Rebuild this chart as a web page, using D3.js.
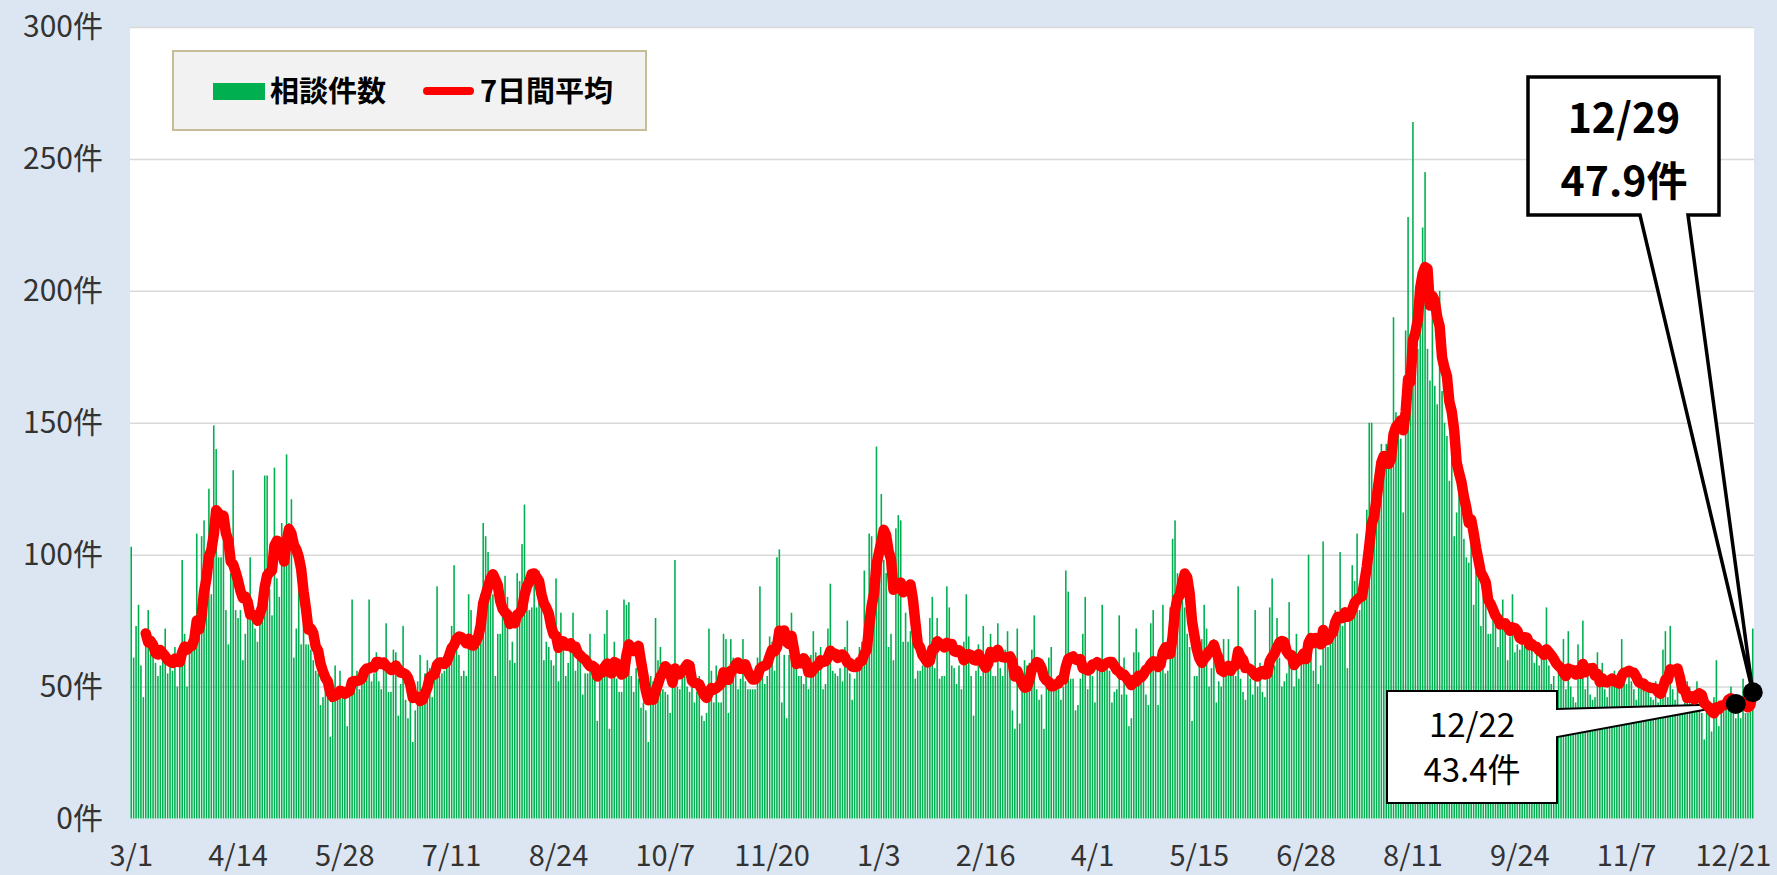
<!DOCTYPE html>
<meta charset="utf-8">
<script src="https://d3js.org/d3.v7.min.js"></script>
<style>
body { margin: 0; background: #dce6f2; }
svg text { font-family: "Noto Sans CJK JP", "Noto Sans", sans-serif; }
</style>
<svg id="chart" width="1777" height="875"></svg>
<script>

// daily consultation counts, one per day from 2020-03-01 to 2021-12-29
var startDate = "2020-03-01";
var counts = [
103,61,73,81,58,46,69,79,65,63, 59,54,58,60,72,55,58,56,65,50,
59,98,70,50,64,67,68,108,75,107, 113,99,125,85,149,140,99,99,106,79,
66,93,132,79,76,79,60,70,78,99, 79,72,67,78,89,130,130,87,77,133,
91,84,112,98,138,112,121,61,72,92, 66,78,66,66,64,60,56,55,43,46,
49,54,31,45,58,46,56,47,48,35, 48,83,48,56,49,52,54,56,83,52,
55,63,52,49,60,74,48,48,64,63, 39,51,73,45,38,45,29,41,52,62,
48,55,60,57,46,54,88,54,55,56, 63,63,73,96,70,62,54,56,54,85,
79,69,73,68,85,112,107,101,90,85, 54,70,70,86,92,84,60,67,59,93,
90,104,119,84,79,80,94,80,94,84, 60,67,65,60,58,91,52,78,66,54,
59,65,78,56,61,60,47,55,55,70, 57,56,37,56,56,70,79,34,53,67,
53,48,48,83,81,82,54,48,57,53, 42,44,41,29,54,52,76,60,65,49,
48,47,40,51,98,50,49,57,54,50, 48,58,44,48,54,39,37,40,72,56,
44,58,44,44,70,68,40,68,61,58, 49,53,68,52,49,49,49,49,61,88,
58,51,54,69,67,56,99,102,44,62, 38,62,78,63,63,54,54,51,54,49,
62,71,63,56,65,49,51,72,89,56, 55,54,57,52,65,75,55,45,53,58,
65,67,94,65,108,107,91,141,98,123, 98,93,65,70,60,110,115,113,67,78,
67,71,72,53,56,56,58,58,61,76, 84,57,76,53,54,54,88,80,58,57,
51,58,49,67,85,69,54,39,56,66, 54,73,58,65,70,54,54,74,57,54,
64,71,56,41,34,72,36,48,60,58, 59,64,77,49,45,47,34,50,61,65,
49,50,49,45,50,94,86,53,53,41, 43,53,70,84,49,56,54,44,58,60,
81,56,60,56,44,48,49,77,47,61, 47,35,38,63,72,63,56,55,47,43,
74,79,61,43,61,81,55,56,80,106, 113,93,90,88,80,70,65,37,54,54,
65,68,81,72,50,57,68,44,52,50, 68,55,68,55,56,54,88,53,48,45,
55,53,47,79,50,59,48,46,55,80, 91,58,76,61,50,52,55,82,57,50,
70,53,61,65,67,100,63,56,67,51, 58,105,72,65,69,73,79,72,101,73,
80,57,76,96,90,108,79,83,95,117, 150,150,127,125,134,142,134,142,137,140,
190,154,149,144,116,185,228,182,264,170, 178,200,224,245,178,166,196,164,157,200,
162,150,145,128,137,107,116,134,125,106, 99,97,116,81,94,92,73,88,82,70,
70,79,76,65,73,83,72,60,69,85, 63,66,64,68,66,68,65,66,59,63,
58,63,60,80,58,51,54,46,56,54, 68,49,71,50,46,44,66,58,75,49,
59,47,45,46,63,53,59,49,46,50, 51,56,50,56,68,56,51,55,52,49,
45,54,52,51,48,50,46,45,52,44, 46,64,71,46,73,49,45,50,40,40,
44,52,50,48,42,52,44,40,30,44, 42,33,46,60,35,40,44,46,44,50,
42,38,44,38,53,40,40,48,72
];
var xTickLabels = ["3/1","4/14","5/28","7/11","8/24","10/7","11/20","1/3","2/16","4/1","5/15","6/28","8/11","9/24","11/7","12/21"];
var yTicks = [0, 50, 100, 150, 200, 250, 300];
var seriesNames = ["相談件数", "7日間平均"];
var calloutDates = ["12/22", "12/29"];

var svg = d3.select("#chart");
var plot = {left: 130, right: 1754, top: 27, bottom: 818.5};

var parse = d3.timeParse("%Y-%m-%d");
var fmt = d3.timeFormat("%-m/%-d");
var labels = counts.map(function(d, i) { return fmt(d3.timeDay.offset(parse(startDate), i)); });

// trailing 7 day mean
var avg = counts.map(function(d, i) {
  return i < 6 ? null : d3.mean(counts.slice(i - 6, i + 1));
});

var x = d3.scaleBand().domain(d3.range(counts.length))
  .range([plot.left, plot.right]).paddingInner(0.35).paddingOuter(0.175);
var y = d3.scaleLinear().domain([0, 300]).range([plot.bottom, plot.top]);
var cx = function(i) { return x(i) + x.bandwidth() / 2; };

// plot area
svg.append("rect").attr("x", plot.left).attr("y", plot.top)
  .attr("width", plot.right - plot.left).attr("height", plot.bottom - plot.top)
  .attr("fill", "#fff");

// grid
var grid = svg.append("g").attr("transform", "translate(" + plot.left + ",0)")
  .call(d3.axisLeft(y).tickValues(yTicks.slice(1)).tickSize(-(plot.right - plot.left)).tickFormat(""));
grid.select(".domain").remove();
grid.selectAll("line").attr("stroke", "#d9d9d9").attr("stroke-width", 1.5);

// y axis labels
var yAx = svg.append("g").attr("transform", "translate(103,0)")
  .call(d3.axisLeft(y).tickValues(yTicks).tickSize(0).tickPadding(0).tickFormat(function(d) { return d + "件"; }));
yAx.select(".domain").remove();
yAx.selectAll("text").attr("font-size", 30).attr("fill", "#333")
  .style("font-family", '"Noto Sans CJK JP", sans-serif');

// x axis labels
var tickIdx = [], from = 0;
xTickLabels.forEach(function(l) {
  var k = labels.indexOf(l, from);
  tickIdx.push(k);
  from = k + 1;
});
var xAx = svg.append("g").attr("transform", "translate(0," + plot.bottom + ")")
  .call(d3.axisBottom(x).tickValues(tickIdx).tickSize(0).tickPadding(27).tickFormat(function(i) { return labels[i]; }));
xAx.select(".domain").remove();
xAx.selectAll("text").attr("font-size", 29).attr("fill", "#333")
  .style("font-family", '"Noto Sans CJK JP", sans-serif');

// bars
svg.append("g").selectAll("rect").data(counts).join("rect")
  .attr("x", function(d, i) { return x(i); })
  .attr("width", x.bandwidth())
  .attr("y", function(d) { return y(d); })
  .attr("height", function(d) { return y(0) - y(d); })
  .attr("fill", "#00b050");

// callouts (white shapes over the bars)
var ci = calloutDates.map(function(l) { return labels.lastIndexOf(l); });
var p0 = [cx(ci[0]), y(avg[ci[0]])];
var p1 = [cx(ci[1]), y(avg[ci[1]])];

svg.append("path")
  .attr("d", "M1387,691H1557V709L" + p0[0] + "," + p0[1] + "L1557,737V803H1387Z")
  .attr("fill", "#fff").attr("stroke", "#000").attr("stroke-width", 2);
svg.append("path")
  .attr("d", "M1528,77H1719V215H1688L" + p1[0] + "," + p1[1] + "L1640,215H1528Z")
  .attr("fill", "#fff").attr("stroke", "#000").attr("stroke-width", 3.5);

// 7 day average line
var line = d3.line()
  .defined(function(d) { return d != null; })
  .x(function(d, i) { return cx(i); })
  .y(function(d) { return y(d); });
svg.append("path").datum(avg).attr("d", line)
  .attr("fill", "none").attr("stroke", "#ff0000").attr("stroke-width", 10.5)
  .attr("stroke-linejoin", "round").attr("stroke-linecap", "round");

// dots
svg.selectAll("circle.pt").data([p0, p1]).join("circle")
  .attr("cx", function(d) { return d[0]; }).attr("cy", function(d) { return d[1]; })
  .attr("r", 10).attr("fill", "#000");

// callout texts
svg.append("text").attr("x", 1472).attr("y", 737).attr("text-anchor", "middle")
  .attr("font-size", 33).attr("fill", "#000").text(calloutDates[0]);
svg.append("text").attr("x", 1472).attr("y", 782).attr("text-anchor", "middle")
  .attr("font-size", 33).attr("fill", "#000").text(avg[ci[0]].toFixed(1) + "件");
svg.append("text").attr("x", 1624).attr("y", 133).attr("text-anchor", "middle")
  .attr("font-size", 41).attr("font-weight", "bold").attr("fill", "#000").text(calloutDates[1]);
svg.append("text").attr("x", 1624).attr("y", 196).attr("text-anchor", "middle")
  .attr("font-size", 41).attr("font-weight", "bold").attr("fill", "#000").text(avg[ci[1]].toFixed(1) + "件");

// legend
var lg = svg.append("g");
lg.append("rect").attr("x", 173).attr("y", 51).attr("width", 473).attr("height", 79)
  .attr("fill", "#f2f2f2").attr("stroke", "#c4bd97").attr("stroke-width", 2);
lg.append("rect").attr("x", 213).attr("y", 83).attr("width", 52).attr("height", 17).attr("fill", "#00b050");
lg.append("text").attr("x", 270).attr("y", 102).attr("font-size", 29).attr("font-weight", "bold")
  .attr("fill", "#000").text(seriesNames[0]);
lg.append("line").attr("x1", 427).attr("x2", 470).attr("y1", 91).attr("y2", 91)
  .attr("stroke", "#ff0000").attr("stroke-width", 8).attr("stroke-linecap", "round");
lg.append("text").attr("x", 480).attr("y", 102).attr("font-size", 29).attr("font-weight", "bold")
  .attr("fill", "#000").text(seriesNames[1]);

</script>
